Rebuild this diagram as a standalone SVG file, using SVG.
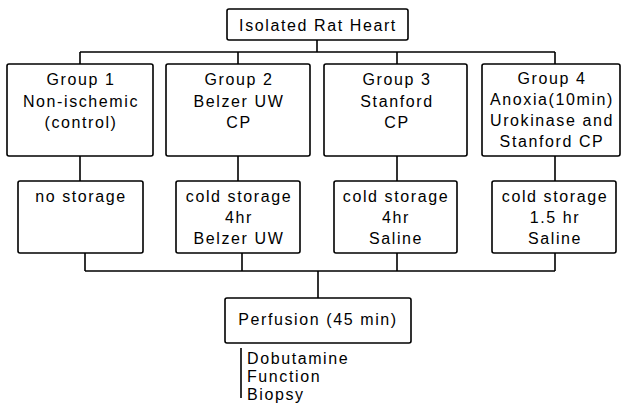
<svg xmlns="http://www.w3.org/2000/svg" width="623" height="414" viewBox="0 0 623 414">
<style>
.box{fill:#fff;stroke:#000;stroke-width:1.6}
.ln{fill:none;stroke:#000;stroke-width:1.6}
text{font-family:"Liberation Sans",Arial,sans-serif;font-size:16px;letter-spacing:1.6px;fill:#000}
.c{text-anchor:middle}
</style>
<rect width="623" height="414" fill="#fff"/>
<g id="connectors" class="ln">
<path d="M317 40V52M80 52H555M80 52V64M238 52V64M397 52V64M555 52V64"/>
<path d="M80 156V181M238 156V181M397 156V181M555 156V181"/>
<path d="M85 253V271M242 253V271M397 253V271M555 253V271M85 271H555M318 271V298"/>
<path d="M241 348V398"/>
</g>
<g id="top"><rect class="box" x="227" y="9" width="181" height="31" rx="2"/><text class="c" x="318" y="31">Isolated Rat Heart</text></g>
<g id="g1"><rect class="box" x="7" y="64" width="146" height="92" rx="2"/>
<text class="c" x="81" y="85">Group 1</text><text class="c" x="81" y="107">Non-ischemic</text><text class="c" x="81" y="128">(control)</text></g>
<g id="g2"><rect class="box" x="166" y="64" width="144" height="92" rx="2"/>
<text class="c" x="239" y="85">Group 2</text><text class="c" x="239" y="107">Belzer UW</text><text class="c" x="239" y="128">CP</text></g>
<g id="g3"><rect class="box" x="324" y="64" width="143" height="92" rx="2"/>
<text class="c" x="397" y="85">Group 3</text><text class="c" x="397" y="107">Stanford</text><text class="c" x="397" y="128">CP</text></g>
<g id="g4"><rect class="box" x="482" y="64" width="138" height="92" rx="2"/>
<text class="c" x="552" y="84">Group 4</text><text class="c" x="552" y="105">Anoxia(10min)</text><text class="c" x="552" y="126">Urokinase and</text><text class="c" x="552" y="147">Stanford CP</text></g>
<g id="s1"><rect class="box" x="18" y="181" width="125" height="72" rx="2"/><text class="c" x="81" y="202">no storage</text></g>
<g id="s2"><rect class="box" x="176" y="181" width="124" height="72" rx="2"/>
<text class="c" x="239" y="202">cold storage</text><text class="c" x="239" y="223">4hr</text><text class="c" x="239" y="244">Belzer UW</text></g>
<g id="s3"><rect class="box" x="334" y="181" width="123" height="72" rx="2"/>
<text class="c" x="396" y="202">cold storage</text><text class="c" x="396" y="223">4hr</text><text class="c" x="396" y="244">Saline</text></g>
<g id="s4"><rect class="box" x="492" y="181" width="124" height="72" rx="2"/>
<text class="c" x="555" y="202">cold storage</text><text class="c" x="555" y="223">1.5 hr</text><text class="c" x="555" y="244">Saline</text></g>
<g id="perf"><rect class="box" x="225" y="298" width="186" height="45" rx="2"/><text class="c" x="318" y="325">Perfusion (45 min)</text></g>
<g id="notes"><text x="247" y="364">Dobutamine</text><text x="247" y="382">Function</text><text x="247" y="400">Biopsy</text></g>
</svg>
